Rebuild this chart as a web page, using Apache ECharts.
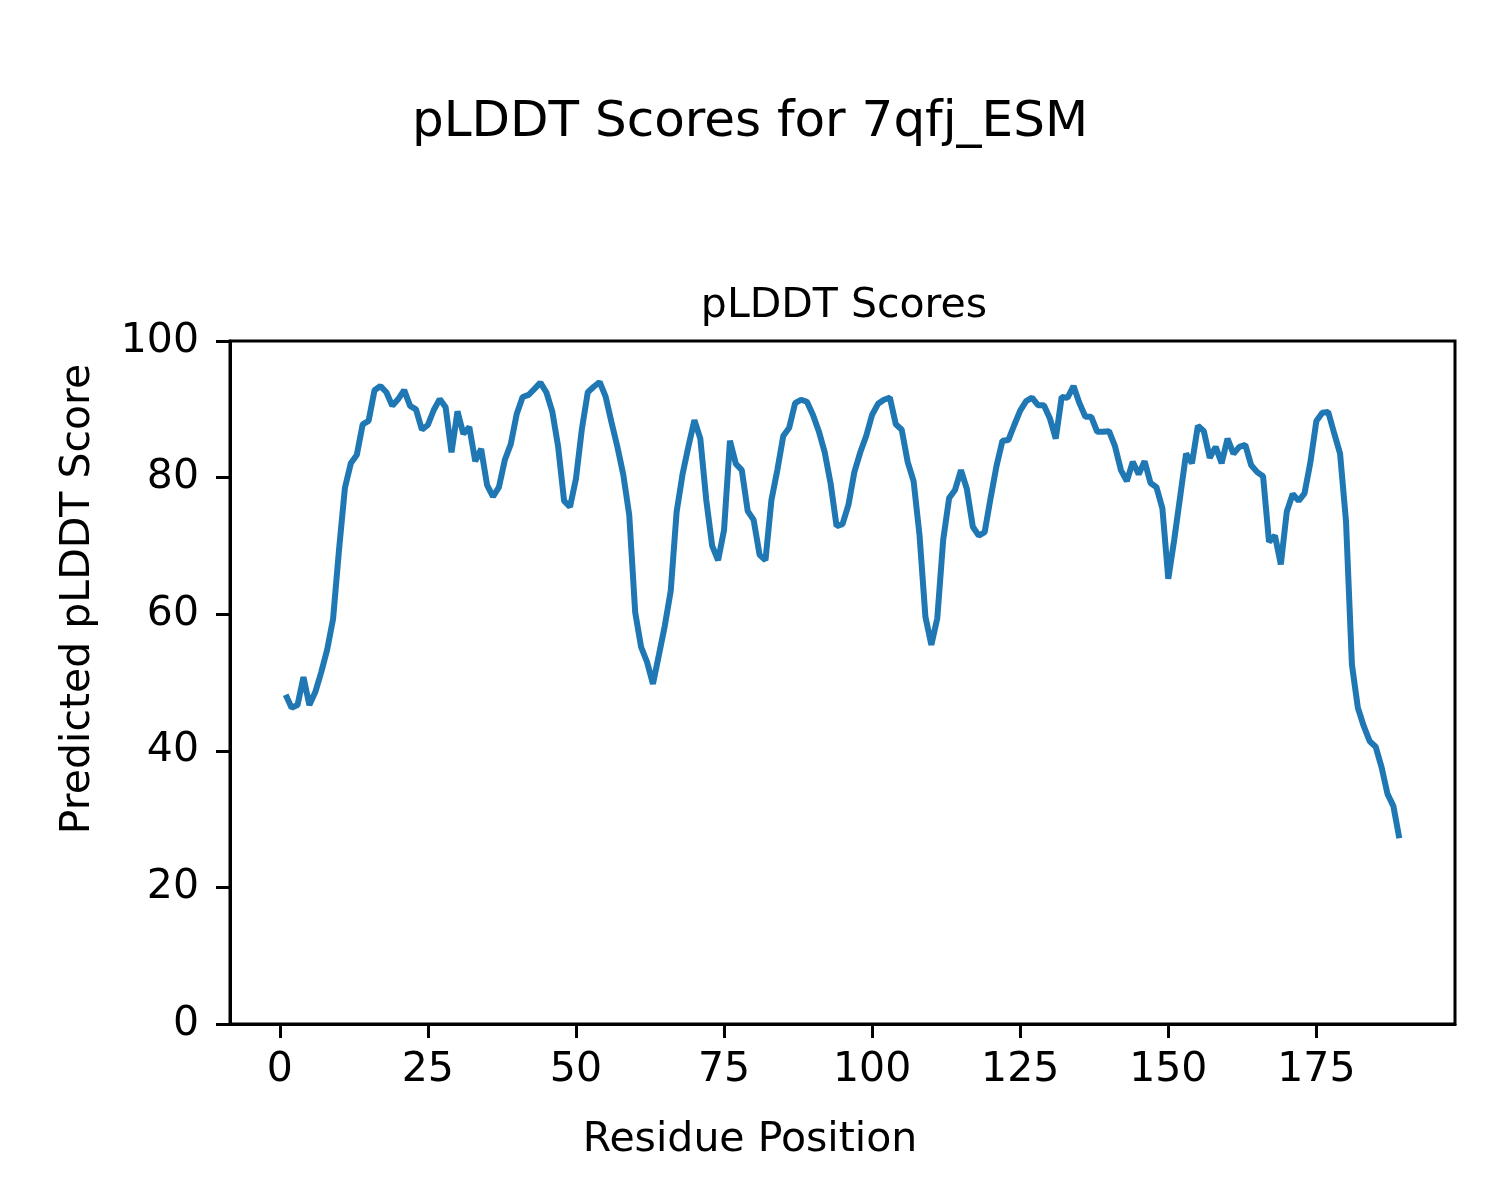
<!DOCTYPE html>
<html>
<head>
<meta charset="utf-8">
<script src="https://cdn.jsdelivr.net/npm/echarts@6/dist/echarts.min.js"></script>
<style>
html,body{margin:0;padding:0;background:#fff;}
#chart{width:1500px;height:1200px;}
</style>
</head>
<body>
<div id="chart"></div>
<script>
// Residue positions 1..189
const residues = [];
for (let i = 1; i <= 189; i++) residues.push(i);

// pLDDT values
const plddt = [
  48.2, 46.3, 46.7, 50.8, 46.7, 48.6, 51.5, 54.8, 59.3, 69.4,
  78.5, 82.1, 83.3, 87.8, 88.3, 92.8, 93.4, 92.5, 90.5, 91.5,
  92.8, 90.5, 90.0, 87.0, 87.7, 89.9, 91.5, 90.3, 83.7, 89.7,
  86.4, 87.4, 82.4, 84.2, 78.9, 77.2, 78.6, 82.6, 84.9, 89.3,
  91.8, 92.1, 93.0, 93.9, 92.5, 89.7, 84.5, 76.6, 75.7, 79.8,
  87.1, 92.5, 93.3, 94.0, 91.9, 88.1, 84.5, 80.4, 74.5, 60.3,
  55.2, 53.0, 49.8, 54.0, 58.3, 63.4, 75.0, 80.5, 84.6, 88.4,
  85.7, 76.7, 70.0, 67.9, 72.3, 85.4, 82.0, 81.1, 75.1, 73.8,
  68.7, 67.9, 76.7, 81.1, 86.1, 87.3, 90.9, 91.4, 91.1, 89.2,
  86.8, 83.7, 79.1, 72.9, 73.2, 76.0, 80.8, 83.7, 86.1, 89.2,
  90.8, 91.4, 91.7, 87.8, 87.0, 82.3, 79.5, 71.6, 59.6, 55.5,
  59.4, 70.9, 77.0, 78.2, 81.1, 78.3, 72.8, 71.5, 72.0, 77.0,
  81.7, 85.4, 85.5, 87.7, 89.8, 91.2, 91.7, 90.6, 90.6, 88.7,
  85.7, 91.8, 91.7, 93.4, 90.9, 88.9, 88.9, 86.7, 86.7, 86.8,
  84.6, 81.1, 79.5, 82.3, 80.5, 82.4, 79.2, 78.6, 75.5, 65.2,
  70.9, 77.2, 83.5, 82.1, 87.6, 86.8, 82.9, 84.5, 82.1, 85.7,
  83.5, 84.5, 84.8, 81.8, 80.8, 80.2, 70.6, 71.5, 67.3, 75.0,
  77.6, 76.6, 77.7, 82.3, 88.3, 89.5, 89.6, 86.5, 83.5, 73.6,
  52.6, 46.3, 43.6, 41.4, 40.6, 37.6, 33.7, 31.9, 27.2
];

const xTicks = [0, 25, 50, 75, 100, 125, 150, 175];
const yTicks = [0, 20, 40, 60, 80, 100];

const suptitle = 'pLDDT Scores for 7qfj_ESM';
const axTitle = 'pLDDT Scores';
const xLabel = 'Residue Position';
const yLabel = 'Predicted pLDDT Score';

const FONT = 'DejaVu Sans';
const points = residues.map((r, i) => [r, plddt[i]]);

const chart = echarts.init(document.getElementById('chart'), null, {renderer: 'canvas'});
chart.setOption({
  backgroundColor: '#ffffff',
  animation: false,
  title: [
    {
      text: suptitle,
      left: 'center',
      top: 93,
      textStyle: {fontFamily: FONT, fontSize: 50, fontWeight: 'normal', color: '#000', lineHeight: 50}
    },
    {
      text: axTitle,
      left: 839,
      textAlign: 'center',
      top: 281,
      textStyle: {fontFamily: FONT, fontSize: 41, fontWeight: 'normal', color: '#000', lineHeight: 41}
    }
  ],
  graphic: [
    {
      type: 'text',
      left: 'center',
      top: 1120,
      style: {text: xLabel, font: '41px "DejaVu Sans"', fill: '#000'}
    },
    {
      type: 'text',
      x: 78,
      y: 599,
      rotation: Math.PI / 2,
      style: {text: yLabel, font: '41px "DejaVu Sans"', fill: '#000', textAlign: 'center', textVerticalAlign: 'middle'}
    }
  ],
  grid: {
    left: 230, right: 45, top: 341, bottom: 176,
    show: true, borderColor: '#000', borderWidth: 3, backgroundColor: 'transparent'
  },
  xAxis: {
    type: 'value',
    min: -8.4,
    max: 198.4,
    axisLine: {show: true, onZero: false, lineStyle: {color: '#000', width: 3}},
    axisTick: {show: true, customValues: xTicks, length: 14, inside: false, lineStyle: {color: '#000', width: 3}},
    axisLabel: {show: true, customValues: xTicks, margin: 26, fontFamily: FONT, fontSize: 41, color: '#000'},
    splitLine: {show: false}
  },
  yAxis: {
    type: 'value',
    min: 0,
    max: 100,
    interval: 20,
    axisLine: {show: true, onZero: false, lineStyle: {color: '#000', width: 3}},
    axisTick: {show: true, length: 14, inside: false, lineStyle: {color: '#000', width: 3}},
    axisLabel: {show: true, margin: 31, fontFamily: FONT, fontSize: 41, color: '#000'},
    splitLine: {show: false}
  },
  series: [{
    type: 'line',
    data: points,
    showSymbol: false,
    symbol: 'none',
    lineStyle: {color: '#1f77b4', width: 6},
    itemStyle: {color: '#1f77b4'},
    z: 3
  }]
});
</script>
</body>
</html>
